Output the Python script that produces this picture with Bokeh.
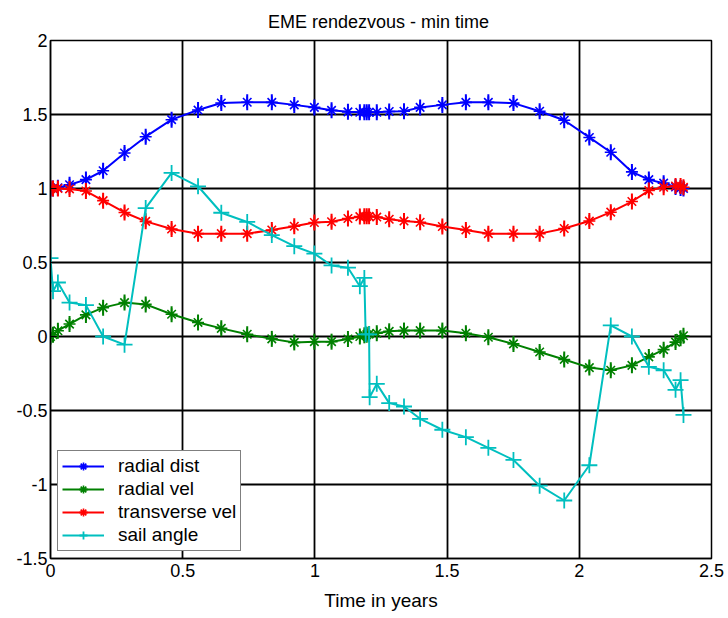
import math
from bokeh.plotting import figure
from bokeh.models import FixedTicker, Range1d, Legend, LegendItem, ColumnDataSource
from bokeh.embed import file_html
from bokeh.resources import INLINE

title_text = "EME rendezvous  - min time"
x_label = "Time in years"
x_ticks = [0, 0.5, 1, 1.5, 2, 2.5]
x_tick_labels = ["0", "0.5", "1", "1.5", "2", "2.5"]
y_ticks = [-1.5, -1, -0.5, 0, 0.5, 1, 1.5, 2]
y_tick_labels = ["-1.5", "-1", "-0.5", "0", "0.5", "1", "1.5", "2"]

series_names = ["radial dist", "radial vel", "transverse vel", "sail angle"]

time_nodes = [0, 0.0095, 0.028, 0.072, 0.134, 0.199, 0.28, 0.36, 0.458, 0.558,
              0.646, 0.744, 0.837, 0.922, 0.998, 1.063, 1.125, 1.17, 1.187, 1.196,
              1.205, 1.234, 1.281, 1.337, 1.398, 1.482, 1.571, 1.656, 1.751, 1.85,
              1.943, 2.038, 2.119, 2.199, 2.263, 2.319, 2.364, 2.383, 2.394]

radial_dist = [1.0, 1.0, 1.005, 1.025, 1.06, 1.12, 1.24, 1.35, 1.465, 1.53,
               1.578, 1.583, 1.582, 1.565, 1.548, 1.528, 1.518, 1.515, 1.515, 1.515,
               1.515, 1.515, 1.52, 1.522, 1.548, 1.565, 1.582, 1.582, 1.577, 1.522,
               1.461, 1.345, 1.245, 1.112, 1.06, 1.036, 1.01, 1.004, 1.0]

radial_vel = [0.0, 0.012, 0.039, 0.084, 0.146, 0.195, 0.229, 0.217, 0.15, 0.095,
              0.055, 0.015, -0.016, -0.04, -0.035, -0.035, -0.017, 0.0, 0.008, 0.012,
              0.016, 0.022, 0.035, 0.04, 0.04, 0.04, 0.022, -0.005, -0.05, -0.105,
              -0.155, -0.21, -0.228, -0.195, -0.138, -0.089, -0.038, -0.012, 0.005]

transverse_vel = [1.0, 1.0, 1.0, 0.997, 0.983, 0.918, 0.838, 0.778, 0.726, 0.695,
                  0.695, 0.695, 0.72, 0.745, 0.77, 0.775, 0.797, 0.81, 0.812, 0.812,
                  0.812, 0.807, 0.792, 0.78, 0.772, 0.743, 0.72, 0.695, 0.695, 0.695,
                  0.73, 0.78, 0.84, 0.912, 0.986, 1.008, 1.017, 1.017, 1.008]

sail_time = [0, 0.0095, 0.028, 0.072, 0.134, 0.199, 0.28, 0.36, 0.458, 0.558,
             0.646, 0.744, 0.837, 0.922, 0.998, 1.063, 1.125, 1.17, 1.187, 1.192,
             1.205, 1.207, 1.234, 1.281, 1.337, 1.398, 1.482, 1.571, 1.656, 1.751,
             1.85, 1.943, 2.038, 2.119, 2.199, 2.263, 2.319, 2.364, 2.383, 2.394]

sail_angle = [0.53, 0.306, 0.365, 0.229, 0.212, 0.0, -0.055, 0.868, 1.105, 1.015,
              0.836, 0.774, 0.685, 0.61, 0.56, 0.48, 0.465, 0.34, 0.396, 0.015,
              0.015, -0.41, -0.32, -0.45, -0.473, -0.556, -0.63, -0.68, -0.752, -0.834,
              -1.008, -1.108, -0.87, 0.075, 0.0, -0.205, -0.228, -0.36, -0.295, -0.53]

colors = ["#0000FF", "#008000", "#FF0000", "#00BFBF"]
FONT = "Liberation Sans"

p = figure(width=728, height=618, x_range=Range1d(0, 2.5), y_range=Range1d(-1.5, 2),
           output_backend="svg", toolbar_location=None,
           min_border_left=50, min_border_right=17, min_border_top=40, min_border_bottom=60,
           title=title_text)
p.title.align = "center"
p.title.text_font = FONT
p.title.text_font_size = "18px"
p.title.text_font_style = "normal"
p.title.text_color = "black"
p.title.standoff = 17

p.background_fill_color = "white"
p.border_fill_color = "white"
p.outline_line_color = "black"
p.outline_line_width = 1.5

for ax, ticks, labels in ((p.xaxis[0], x_ticks, x_tick_labels), (p.yaxis[0], y_ticks, y_tick_labels)):
    ax.ticker = FixedTicker(ticks=ticks)
    ax.major_label_overrides = {t: l for t, l in zip(ticks, labels)}
    ax.major_tick_in = 6
    ax.major_tick_out = 0
    ax.minor_tick_line_color = None
    ax.axis_line_color = "black"
    ax.axis_line_width = 1.5
    ax.major_tick_line_color = "black"
    ax.major_label_text_font = FONT
    ax.major_label_text_font_size = "18px"
    ax.major_label_text_color = "black"

p.yaxis.major_label_standoff = 3
p.xaxis.major_label_standoff = 5
p.xaxis.axis_label = x_label
p.xaxis.axis_label_text_font = FONT
p.xaxis.axis_label_text_font_size = "19px"
p.xaxis.axis_label_text_font_style = "normal"
p.xaxis.axis_label_text_color = "black"
p.xaxis.axis_label_standoff = 10

p.xgrid.ticker = FixedTicker(ticks=x_ticks)
p.ygrid.ticker = FixedTicker(ticks=y_ticks)
for g in (p.xgrid[0], p.ygrid[0]):
    g.grid_line_color = "black"
    g.grid_line_width = 1.8
    g.grid_line_alpha = 1.0

items = []
star_series = [radial_dist, radial_vel, transverse_vel]
for name, vals, col in zip(series_names[:3], star_series, colors[:3]):
    src = ColumnDataSource(dict(t=time_nodes, v=vals))
    r1 = p.line("t", "v", source=src, line_color=col, line_width=2)
    r2 = p.scatter("t", "v", source=src, marker="asterisk", size=12, line_color=col, line_width=1.6)
    r3 = p.scatter("t", "v", source=src, marker="dash", angle=math.pi / 2, size=16, line_color=col, line_width=2)
    items.append(LegendItem(label=name, renderers=[r1, r2, r3]))

src_s = ColumnDataSource(dict(t=sail_time, v=sail_angle))
c1 = p.line("t", "v", source=src_s, line_color=colors[3], line_width=2)
c2 = p.scatter("t", "v", source=src_s, marker="cross", size=16, line_color=colors[3], line_width=1.8)
items.append(LegendItem(label=series_names[3], renderers=[c1, c2]))

legend = Legend(items=items, location=(7, 7))
legend.label_text_font = FONT
legend.label_text_font_size = "19px"
legend.label_text_color = "black"
legend.glyph_width = 42
legend.glyph_height = 20
legend.label_height = 20
legend.label_standoff = 14
legend.padding = 4
legend.spacing = 1
legend.margin = 0
legend.border_line_color = "black"
legend.border_line_width = 1.8
legend.background_fill_color = "white"
legend.background_fill_alpha = 1.0
p.add_layout(legend, "center")

open("out.html", "w").write(file_html(p, INLINE))
